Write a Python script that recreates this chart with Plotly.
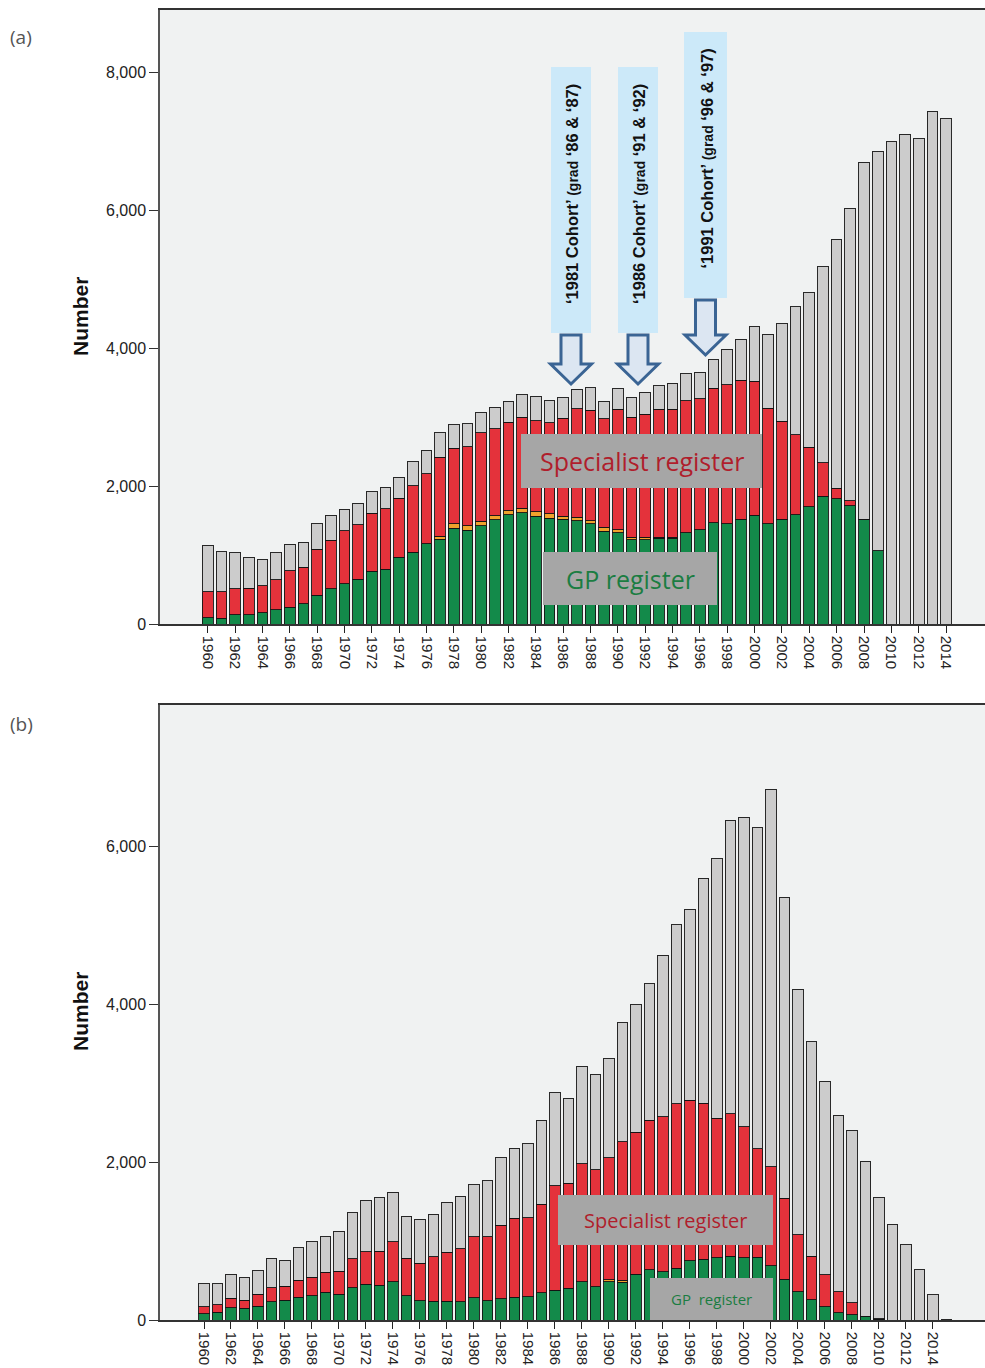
import plotly.graph_objects as go

W, H = 985, 1368

# ---------------- data: panel (a) ----------------
years_a = list(range(1960, 2015))
gp_a = [90, 80, 135, 135, 165, 205, 245, 290, 420, 510,
        585, 650, 765, 790, 965, 1040, 1165, 1225, 1390, 1360,
        1425, 1510, 1585, 1615, 1565, 1535, 1515, 1495, 1455, 1345,
        1320, 1220, 1220, 1240, 1245, 1325, 1365, 1470, 1455, 1520,
        1575, 1455, 1520, 1585, 1700, 1855, 1815, 1715, 1520, 1060,
        0, 0, 0, 0, 0]
both_a = [0, 0, 0, 0, 0, 0, 0, 0, 0, 0,
          0, 0, 0, 0, 0, 0, 0, 45, 60, 65,
          65, 60, 60, 65, 65, 65, 45, 55, 40, 60,
          45, 35, 40, 15, 10, 0, 0, 0, 0, 0,
          0, 0, 0, 0, 0, 0, 0, 0, 0, 0,
          0, 0, 0, 0, 0]
spec_a = [380, 385, 375, 385, 390, 440, 530, 530, 665, 705,
          770, 790, 840, 880, 860, 965, 1015, 1150, 1100, 1145,
          1280, 1260, 1280, 1315, 1315, 1320, 1425, 1570, 1605, 1570,
          1745, 1745, 1780, 1855, 1855, 1910, 1900, 1950, 2015, 2010,
          1945, 1670, 1420, 1160, 865, 480, 150, 75, 0, 0,
          0, 0, 0, 0, 0]
other_a = [670, 585, 520, 450, 380, 385, 380, 365, 365, 360,
           305, 310, 310, 310, 305, 345, 335, 350, 340, 335,
           290, 310, 300, 325, 355, 315, 295, 280, 325, 250,
           300, 290, 320, 340, 380, 395, 385, 410, 510, 600,
           795, 1075, 1415, 1855, 2235, 2845, 3615, 4235, 5170, 5795,
           6990, 7100, 7035, 7435, 7320]

# ---------------- data: panel (b) ----------------
years_b = list(range(1960, 2016))
gp_b = [80, 97, 152, 148, 173, 232, 249, 287, 308, 350,
        329, 409, 451, 443, 485, 304, 245, 240, 240, 232,
        283, 245, 266, 287, 295, 346, 376, 405, 485, 424,
        485, 476, 581, 638, 614, 652, 747, 771, 785, 804,
        785, 795, 685, 519, 357, 257, 167, 95, 65, 45,
        10, 0, 0, 0, 0, 0]
both_b = [0, 0, 0, 0, 0, 0, 0, 0, 0, 0,
          0, 0, 0, 0, 0, 0, 0, 0, 0, 0,
          0, 0, 0, 0, 0, 0, 0, 0, 0, 0,
          25, 25, 0, 0, 0, 0, 0, 0, 0, 0,
          0, 0, 0, 0, 0, 0, 0, 0, 0, 0,
          0, 0, 0, 0, 0, 0]
spec_b = [85, 93, 122, 105, 156, 177, 181, 219, 232, 253,
          291, 367, 414, 430, 506, 477, 472, 562, 616, 667,
          772, 810, 936, 1000, 1000, 1122, 1323, 1327, 1490, 1475,
          1541, 1755, 1794, 1889, 1956, 2084, 2032, 1975, 1771, 1809,
          1661, 1370, 1252, 1023, 723, 547, 404, 262, 155, 5,
          5, 0, 0, 0, 0, 0]
other_b = [295, 270, 308, 291, 295, 372, 329, 410, 451, 452,
           506, 583, 654, 675, 625, 535, 561, 535, 633, 670,
           654, 709, 853, 886, 937, 1062, 1180, 1076, 1237, 1213,
           1256, 1504, 1618, 1732, 2046, 2270, 2418, 2846, 3283, 3716,
           3917, 4065, 4783, 3807, 3108, 2718, 2451, 2237, 2179, 1958,
           1532, 1214, 952, 638, 319, 10]

tick_years = list(range(1960, 2015, 2))
yticks_a = [0, 2000, 4000, 6000, 8000]
yticks_b = [0, 2000, 4000, 6000]

GREEN = "#138a4a"
ORANGE = "#f0a22c"
RED = "#e4323b"
GREY = "#cccccc"
EDGE = "rgba(20,20,20,0.9)"


def px(x):
    return x / W


def py(y):
    return 1 - y / H


fig = go.Figure()

for (xs, series, xa, ya) in [
    (years_a, [gp_a, both_a, spec_a, other_a], "x", "y"),
    (years_b, [gp_b, both_b, spec_b, other_b], "x2", "y2"),
]:
    for vals, col in zip(series, [GREEN, ORANGE, RED, GREY]):
        fig.add_trace(go.Bar(
            x=xs, y=vals, xaxis=xa, yaxis=ya,
            marker=dict(color=col, line=dict(color=EDGE, width=1)),
            showlegend=False, hoverinfo="skip"))

tickfont_x = dict(family="Liberation Sans, Arial, sans-serif", size=15, color="#222")
tickfont_y = dict(family="Liberation Sans, Arial, sans-serif", size=16, color="#222")

common_x = dict(tickmode="array", tickvals=tick_years, tickangle=90,
                ticks="outside", ticklen=7, tickcolor="#222", tickwidth=1.2,
                tickfont=tickfont_x, showline=True, linecolor="#333",
                linewidth=1.5, mirror=True, showgrid=False, zeroline=False,
                automargin=False)
common_y = dict(ticks="outside", ticklen=9, tickcolor="#333", tickwidth=1.2,
                tickfont=tickfont_y, tickformat=",", showline=True,
                linecolor="#555", linewidth=1.5, showgrid=False,
                zeroline=False, automargin=False)

fig.update_layout(
    width=W, height=H,
    margin=dict(l=0, r=0, t=0, b=0),
    paper_bgcolor="white",
    plot_bgcolor="#f0f2f2",
    barmode="stack",
    bargap=0.22,
    xaxis=dict(domain=[px(160), 1.0], range=[1956.51, 2016.85], anchor="y",
               **common_x),
    yaxis=dict(domain=[py(624), py(10)], range=[0, 8899], anchor="x",
               tickvals=yticks_a, **common_y),
    xaxis2=dict(domain=[px(160), 1.0], range=[1956.74, 2017.87], anchor="y2",
                **common_x),
    yaxis2=dict(domain=[py(1320), py(705)], range=[0, 7785], anchor="x2",
                tickvals=yticks_b, **common_y),
)

shapes = []
annots = []


def note(x, y, text, font, angle=0):
    annots.append(dict(x=px(x), y=py(y), xref="paper", yref="paper",
                       xanchor="center", yanchor="middle", text=text,
                       textangle=angle, showarrow=False, font=font))


# Axis titles and panel labels
for yc in [317, 1012]:
    note(80, yc, "<b>Number</b>",
         dict(family="Liberation Sans, Arial, sans-serif", size=21, color="#111"),
         angle=-90)
for lab, yc in [("(a)", 37), ("(b)", 724)]:
    note(21, yc, lab, dict(family="Open Sans, sans-serif", size=19, color="#555"))

# Cohort boxes (panel a)
cohorts = [
    ("‘1981 Cohort’", "‘86 &amp; ‘87)", 551, 591, 67, 333, 384),
    ("‘1986 Cohort’", "‘91 &amp; ‘92)", 618, 658, 67, 333, 384),
    ("‘1991 Cohort’", "‘96 &amp; ‘97)", 684, 727, 32, 298, 355),
]
for main, grad, x0, x1, y0, y1, tip in cohorts:
    shapes.append(dict(type="rect", xref="paper", yref="paper",
                       x0=px(x0), x1=px(x1), y0=py(y1), y1=py(y0),
                       fillcolor="#cce9f9", line=dict(width=0), layer="above"))
    note((x0 + x1) / 2 + 1, (y0 + y1) / 2 - 6,
         "<b>" + main + " <span style='font-size:14px'>(grad</span> " + grad + "</b>",
         dict(family="Liberation Sans, Arial, sans-serif", size=16.5,
              color="#111"),
         angle=-90)
    # down arrow
    xc = (x0 + x1) / 2
    yt = y1 + 2
    yh = tip - 20
    pts = [(xc - 10, yt), (xc + 10, yt), (xc + 10, yh), (xc + 20.5, yh),
           (xc, tip), (xc - 20.5, yh), (xc - 10, yh)]
    path = "M " + " L ".join(f"{px(a):.5f},{py(b):.5f}" for a, b in pts) + " Z"
    shapes.append(dict(type="path", xref="paper", yref="paper", path=path,
                       fillcolor="#dce6f2", line=dict(color="#3a6494", width=3),
                       layer="above"))

# Register label boxes
labels = [
    ("Specialist register", "#b01e2c", 521, 762, 434, 488, 25),
    ("GP register", "#1b7d42", 543, 717, 552, 605, 25),
    ("Specialist register", "#b01e2c", 558, 773, 1195, 1245, 20),
    ("GP&nbsp; register", "#1b7d42", 650, 773, 1278, 1320, 15),
]
for txt, col, x0, x1, y0, y1, fs in labels:
    shapes.append(dict(type="rect", xref="paper", yref="paper",
                       x0=px(x0), x1=px(x1), y0=py(y1), y1=py(y0),
                       fillcolor="#a6a6a6", line=dict(width=0), layer="above"))
    note((x0 + x1) / 2, (y0 + y1) / 2, txt,
         dict(family="Open Sans, sans-serif", size=fs, color=col))

fig.update_layout(shapes=shapes, annotations=annots)
fig.write_html("out.html",
               config={"displayModeBar": False},
               post_script="document.body.style.margin='0';"
                           "document.body.style.overflow='hidden';")
